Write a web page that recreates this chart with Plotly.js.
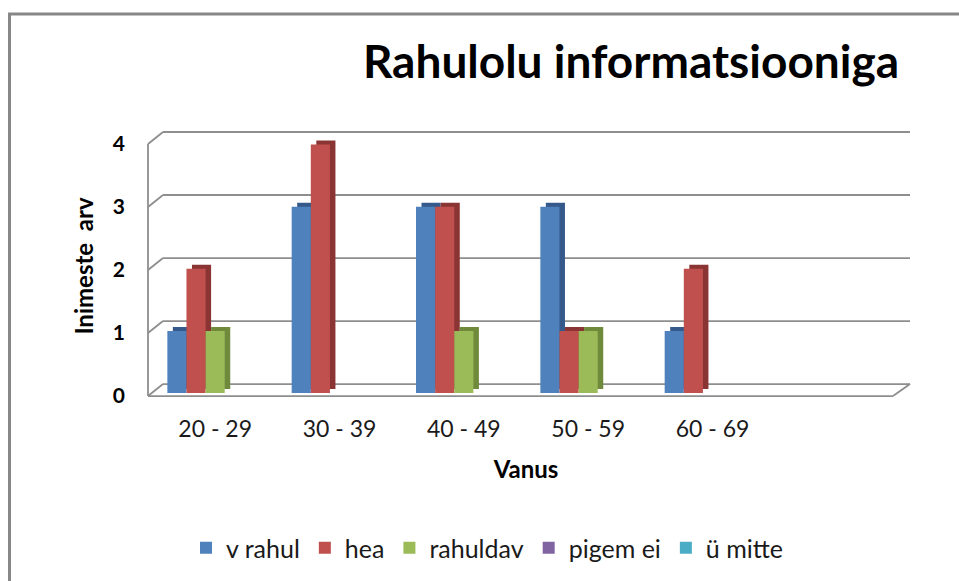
<!DOCTYPE html>
<html>
<head>
<meta charset="utf-8">
<script src="https://cdn.plot.ly/plotly-3.0.1.min.js"></script>
<style>
  html, body { margin: 0; padding: 0; background: #ffffff; }
  #chart { width: 959px; height: 581px; }
</style>
</head>
<body>
<div id="chart"></div>
<script>
// ---- data ----
const categories = ['20 - 29', '30 - 39', '40 - 49', '50 - 59', '60 - 69', ''];
const seriesNames = ['v rahul', 'hea', 'rahuldav', 'pigem ei', 'ü mitte'];
const vRahul   = [1, 3, 3, 3, 1, 0];
const hea      = [2, 4, 3, 1, 2, 0];
const rahuldav = [1, 0, 1, 1, 0, 0];
const pigemEi  = [0, 0, 0, 0, 0, 0];
const uMitte   = [0, 0, 0, 0, 0, 0];
const yTicks   = [0, 1, 2, 3, 4];

// ---- style ----
const frontColors = ['#4F81BD', '#C0504D', '#9BBB59', '#8064A2', '#4BACC6'];
const sideColors  = ['#34598A', '#8A3533', '#6F8A3A', '#5C4878', '#327F94'];
const FONT = 'Lato, "Open Sans", "Liberation Sans", sans-serif';

// ---- geometry (pixels) ----
const W = 959, H = 581;
const L = 153, R = 899, T = 129, B = 404;   // plot area
const zeroPx = 394;                          // pixel of value 0 (bar base)
const yMax = 4.25;
const unit = (zeroPx - T) / yMax;
const yMin = -(B - zeroPx) / unit;
const px2x = px => (px - L) / (R - L);
const px2y = py => (zeroPx - py) / unit;

const gapRatio = 1.5;
const nSeries = seriesNames.length;
const bw = 1 / (nSeries + gapRatio);
const groupStart = -nSeries * bw / 2;
const sideDx = 5.5 / (R - L) * categories.length;
const sideDy = 4 / unit;

const xIdx = categories.map((c, i) => i);
const allValues = [vRahul, hea, rahuldav, pigemEi, uMitte];

const data = [];
// side/top faces first (drawn behind)
allValues.forEach((vals, i) => {
  data.push({
    type: 'bar', x: xIdx, y: vals, base: sideDy,
    width: bw, offset: groupStart + i * bw + sideDx,
    marker: { color: sideColors[i], line: { width: 0 } },
    showlegend: false, hoverinfo: 'skip', name: seriesNames[i] + ' side'
  });
});
allValues.forEach((vals, i) => {
  data.push({
    type: 'bar', x: xIdx, y: vals, name: seriesNames[i],
    width: bw, offset: groupStart + i * bw,
    marker: { color: frontColors[i], line: { width: 0 } }
  });
});

// ---- walls / gridlines ----
const frontLeft = 148, backLeft = 163, backRight = 910, frontRight = 893;
const backBase = 385, frontBase = 397, gridStep = 63.25;
const gridColor = '#8e8e8e';
const shapes = [];
const ln = (x0, y0, x1, y1) => ({
  type: 'line', xref: 'paper', yref: 'y', layer: 'below',
  x0: px2x(x0), x1: px2x(x1), y0: px2y(y0), y1: px2y(y1),
  line: { color: gridColor, width: 1.8 }
});
yTicks.forEach(t => {
  const by = backBase - gridStep * t, fy = frontBase - gridStep * t;
  shapes.push(ln(frontLeft, fy, backLeft, by));
  shapes.push(ln(backLeft, by, backRight, by));
});
shapes.push(ln(frontLeft, frontBase, frontLeft, frontBase - gridStep * yTicks[yTicks.length - 1]));
shapes.push(ln(frontLeft, frontBase, frontRight, frontBase));
shapes.push(ln(frontRight, frontBase, backRight, backBase));
// outer chart border (left & top)
shapes.push({
  type: 'path', xref: 'paper', yref: 'paper', layer: 'above',
  path: `M ${px2x(9.5)} ${(B - 700) / (B - T)} L ${px2x(9.5)} ${(B - 13.5) / (B - T)} L ${px2x(1000)} ${(B - 13.5) / (B - T)}`,
  line: { color: '#878787', width: 3 }
});

const layout = {
  width: W, height: H,
  margin: { l: L, r: W - R, t: T, b: H - B, pad: 0 },
  paper_bgcolor: '#ffffff', plot_bgcolor: 'rgba(0,0,0,0)',
  font: { family: FONT, color: '#1a1a1a' },
  barmode: 'overlay',
  title: {
    text: 'Rahulolu informatsiooniga',
    font: { family: FONT, size: 46, weight: 700, color: '#000000' },
    xref: 'container', yref: 'container',
    x: 631 / W, xanchor: 'center', y: 1 - 62 / H, yanchor: 'middle'
  },
  xaxis: {
    range: [-0.5, categories.length - 0.5],
    tickvals: xIdx, ticktext: categories,
    showgrid: false, zeroline: false, showline: false, ticks: '',
    ticklabelstandoff: 10,
    tickfont: { family: FONT, size: 23, color: '#1a1a1a' },
    title: { text: 'Vanus', standoff: 20, font: { family: FONT, size: 24, weight: 700, color: '#000000' } },
    fixedrange: true
  },
  yaxis: {
    range: [yMin, yMax],
    tickvals: yTicks.map(t => px2y(frontBase - gridStep * t)),
    ticktext: yTicks.map(String),
    showgrid: false, zeroline: false, showline: false, ticks: '',
    ticklabelstandoff: 27,
    tickfont: { family: FONT, size: 21, weight: 700, color: '#000000' },
    title: { text: 'Inimeste\u00a0 arv', standoff: 12, font: { family: FONT, size: 24, weight: 700, color: '#000000' } },
    fixedrange: true
  },
  legend: {
    orientation: 'h', x: px2x(487), xanchor: 'center',
    y: (B - 548) / (B - T), yanchor: 'middle',
    font: { family: FONT, size: 25, color: '#1a1a1a' },
    traceorder: 'normal', itemclick: false, itemdoubleclick: false
  },
  shapes: shapes,
  showlegend: true
};

Plotly.newPlot('chart', data, layout, { displayModeBar: false, staticPlot: true });
</script>
</body>
</html>
